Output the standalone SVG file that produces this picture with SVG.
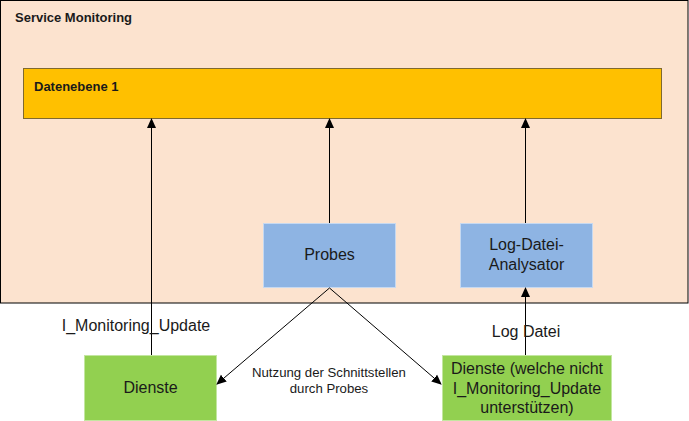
<svg xmlns="http://www.w3.org/2000/svg" width="689" height="421" viewBox="0 0 689 421">
<style>
text{font-family:"Liberation Sans",Arial,sans-serif;fill:#1a1a1a}
.b{font-weight:bold;font-size:13px}
.n{font-size:16px;text-anchor:middle}
.s{font-size:13.2px;text-anchor:middle}
.blue{fill:#8eb4e3;stroke:#c6d9f1;stroke-width:1}
.green{fill:#92d050;stroke:#c3e6a0;stroke-width:1}
.c{stroke:#000;stroke-width:1;fill:none}
</style>
<defs>
<marker id="ah" markerWidth="10" markerHeight="10" refX="9" refY="5" orient="auto" markerUnits="userSpaceOnUse">
<path d="M0,0.5 L10,5 L0,9.5 Z" fill="#000"/>
</marker>
</defs>
<g id="service-monitoring">
<rect x="0.5" y="0.5" width="687.5" height="302.5" fill="#fce3cf" stroke="#000" stroke-width="1"/>
<text class="b" x="15" y="22">Service Monitoring</text>
</g>
<g id="datenebene">
<rect x="23.5" y="68.5" width="638" height="50" fill="#ffc000" stroke="#7f6a30" stroke-width="1"/>
<text class="b" x="34" y="90.5">Datenebene 1</text>
</g>
<g id="probes">
<rect class="blue" x="263.5" y="223.5" width="132" height="64"/>
<text class="n" x="329.5" y="260">Probes</text>
</g>
<g id="log-datei-analysator">
<rect class="blue" x="460.5" y="223.5" width="132" height="64"/>
<text class="n" x="526.5" y="250">Log-Datei-</text>
<text class="n" x="526.5" y="270">Analysator</text>
</g>
<g id="dienste">
<rect class="green" x="84.5" y="355.5" width="132" height="65"/>
<text class="n" x="150.5" y="393">Dienste</text>
</g>
<g id="dienste-nicht">
<rect class="green" x="442.5" y="355.5" width="169" height="65"/>
<text class="n" x="527" y="374">Dienste (welche nicht</text>
<text class="n" x="527" y="394">I_Monitoring_Update</text>
<text class="n" x="527" y="413">unterstützen)</text>
</g>
<g id="connectors">
<line class="c" x1="151.5" y1="355" x2="151.5" y2="119" marker-end="url(#ah)"/>
<line class="c" x1="329.5" y1="223" x2="329.5" y2="119" marker-end="url(#ah)"/>
<line class="c" x1="525.5" y1="223" x2="525.5" y2="119" marker-end="url(#ah)"/>
<line class="c" x1="525.5" y1="355" x2="525.5" y2="288" marker-end="url(#ah)"/>
<line class="c" x1="329.5" y1="288" x2="217" y2="384" stroke-width="0.8" marker-end="url(#ah)"/>
<line class="c" x1="329.5" y1="288" x2="441" y2="384" stroke-width="0.8" marker-end="url(#ah)"/>
<text class="n" x="136" y="331">I_Monitoring_Update</text>
<text class="n" x="526" y="337">Log Datei</text>
<text class="s" x="329" y="376.5">Nutzung der Schnittstellen</text>
<text class="s" x="329" y="393">durch Probes</text>
</g>
</svg>
